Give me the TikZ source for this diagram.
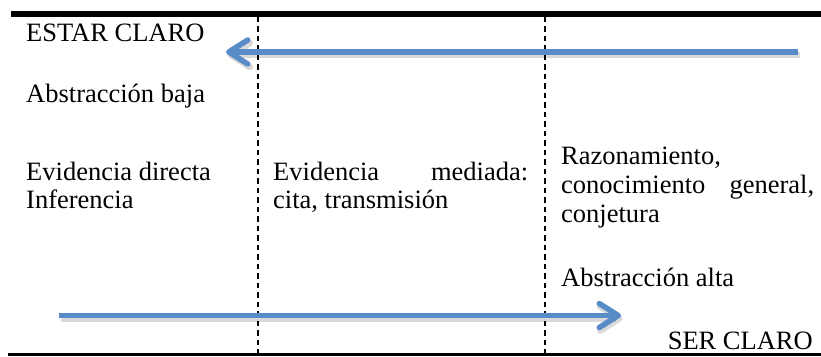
\documentclass[tikz,border=0pt]{standalone}
\usepackage{fontspec}
\setmainfont{Liberation Serif}
\usetikzlibrary{arrows.meta}
\definecolor{arrowblue}{RGB}{88,140,199}
\begin{document}
\begin{tikzpicture}[x=1pt,y=-1pt,
  txt/.style={anchor=base west, inner sep=0pt, font=\fontsize{26.5}{29}\selectfont},
  txtr/.style={anchor=base east, inner sep=0pt, font=\fontsize{26.5}{29}\selectfont},
  divider/.style={line width=2.3pt, dash pattern=on 5.5pt off 4pt},
  bluearrow/.style={draw=arrowblue, line width=5.5pt, -{Straight Barb[length=19pt,width=24pt,round]}},
  arrowshadow/.style={draw=black, opacity=0.15, line width=6.5pt, transform canvas={shift={(1.5pt,-3pt)}}, -{Straight Barb[length=19pt,width=24pt,round]}}]
\useasboundingbox (0,0) rectangle (821,356);
% rules
\coordinate (tl) at (11,13.75);
\coordinate (tr) at (821,13.75);
\coordinate (bl) at (8,354.5);
\coordinate (br) at (821,354.5);
\draw[line width=5.5pt] (tl) -- (tr);
\draw[line width=2.5pt] (bl) -- (br);
% dividers
\coordinate (d1t) at (258,16.5);
\coordinate (d1b) at (258,353);
\coordinate (d2t) at (545,16.5);
\coordinate (d2b) at (545,353);
\draw[divider] (d1t) -- (d1b);
\draw[divider] (d2t) -- (d2b);
% arrows
\coordinate (a1s) at (798,52);
\coordinate (a1e) at (226,52);
\coordinate (a2s) at (59,315.5);
\coordinate (a2e) at (621,315.5);
\draw[arrowshadow] (a1s) -- (a1e);
\draw[arrowshadow] (a2s) -- (a2e);
\draw[bluearrow] (a1s) -- (a1e);
\draw[bluearrow] (a2s) -- (a2e);
% texts
\node[txt] (estar) at (26,41.5) {ESTAR CLARO};
\node[txt] (abaja) at (26,102) {Abstracción baja};
\node[txt] (evdir) at (26,180) {Evidencia directa};
\node[txt] (infer) at (26,208) {Inferencia};
\node[txt] (evmed) at (273,180) {\makebox[255pt][s]{Evidencia\hfill mediada:}};
\node[txt] (cita) at (273,208) {cita, transmisión};
\node[txt] (razon) at (561,164) {Razonamiento,};
\node[txt] (conoc) at (561,193) {\makebox[253pt][s]{conocimiento\hfill general,}};
\node[txt] (conje) at (561,222) {conjetura};
\node[txt] (aalta) at (561,286) {Abstracción alta};
\node[txtr] (ser) at (813,349) {SER CLARO};
\end{tikzpicture}
\end{document}
